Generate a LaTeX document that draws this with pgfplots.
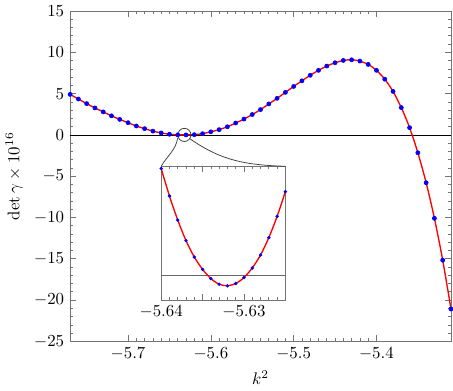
\documentclass[border=0pt]{standalone}
\usepackage{pgfplots}
\usepackage{pgfplotstable}
\pgfplotsset{compat=1.18}
\pgfplotstableread{
k v
-5.77 4.91
-5.76 4.35
-5.75 3.79
-5.74 3.27
-5.73 2.79
-5.72 2.31
-5.71 1.88
-5.70 1.48
-5.69 1.08
-5.68 0.76
-5.67 0.46
-5.66 0.24
-5.65 0.08
-5.64 0.01
-5.63 0.00
-5.62 0.03
-5.61 0.15
-5.60 0.38
-5.59 0.64
-5.58 0.99
-5.57 1.44
-5.56 1.92
-5.55 2.47
-5.54 3.07
-5.53 3.75
-5.52 4.43
-5.51 5.15
-5.50 5.87
-5.49 6.55
-5.48 7.22
-5.47 7.82
-5.46 8.34
-5.45 8.74
-5.44 9.02
-5.43 9.10
-5.42 8.94
-5.41 8.54
-5.40 7.82
-5.39 6.75
-5.38 5.27
-5.37 3.31
-5.36 0.88
-5.35 -2.16
-5.34 -5.79
-5.33 -10.10
-5.32 -15.17
-5.31 -21.08
}\maintable
\pgfplotstableread{
k v
-5.640 15.16
-5.639 11.28
-5.638 7.88
-5.637 4.98
-5.636 2.66
-5.635 0.92
-5.634 -0.38
-5.633 -1.18
-5.632 -1.40
-5.631 -1.08
-5.630 -0.24
-5.629 1.12
-5.628 2.94
-5.627 5.40
-5.626 8.40
-5.625 11.90
}\insettable
\pgfplotsset{
  myframe/.style={
    tick align=inside,
    major tick length=3.5pt,
    minor tick length=1.8pt,
    axis line style={black!55},
    every tick/.style={black!55, line width=0.4pt},
  }
}
\begin{document}
\begin{tikzpicture}
\begin{axis}[
  name=main,
  myframe,
  scale only axis,
  width=226pt, height=196pt,
  xmin=-5.77, xmax=-5.31,
  ymin=-25, ymax=15,
  xtick={-5.7,-5.6,-5.5,-5.4},
  xticklabels={$-5.7$,$-5.6$,$-5.5$,$-5.4$},
  ytick={-25,-20,...,15},
  minor x tick num=9,
  minor y tick num=4,
  xlabel={$k^2$},
  ylabel={$\det\gamma\times10^{16}$},
]
\addplot[black, line width=0.5pt, forget plot] coordinates {(-5.77,0) (-5.31,0)};
\addplot[red, line width=0.8pt, smooth, no marks] table[x=k,y=v] {\maintable};
\addplot[blue, only marks, mark=*, mark size=1.2pt] table[x=k,y=v] {\maintable};
\draw[black!75, line width=0.45pt] (axis cs:-5.632,0) circle[radius=3.9pt];
\coordinate (insSW) at (axis cs:-5.66,-20);
\coordinate (insNW) at (axis cs:-5.66,-3.8);
\coordinate (insNE) at (axis cs:-5.51,-3.8);
\coordinate (cL) at (axis cs:-5.6401,-0.40);
\coordinate (cR) at (axis cs:-5.6250,-0.48);
\end{axis}
\begin{axis}[
  name=inset,
  myframe,
  at={(insSW)}, anchor=south west,
  scale only axis,
  width=73.7pt, height=79.4pt,
  xmin=-5.640, xmax=-5.625,
  ymin=-3.42, ymax=15.48,
  xtick={-5.64,-5.635,-5.63,-5.625},
  xticklabels={$-5.64$,,$-5.63$,},
  minor x tick num=4,
  ytick=\empty,
  axis background/.style={fill=white},
]
\addplot[black!60, line width=0.5pt, forget plot] coordinates {(-5.640,0) (-5.625,0)};
\addplot[red, line width=0.8pt, smooth, no marks] table[x=k,y=v] {\insettable};
\addplot[blue, only marks, mark=*, mark size=0.8pt] table[x=k,y=v] {\insettable};
\end{axis}
\draw[black!75, line width=0.45pt] (cL) to[out=-100,in=60] (insNW);
\draw[black!75, line width=0.45pt] (cR) to[out=-35,in=178] (insNE);
\end{tikzpicture}
\end{document}
